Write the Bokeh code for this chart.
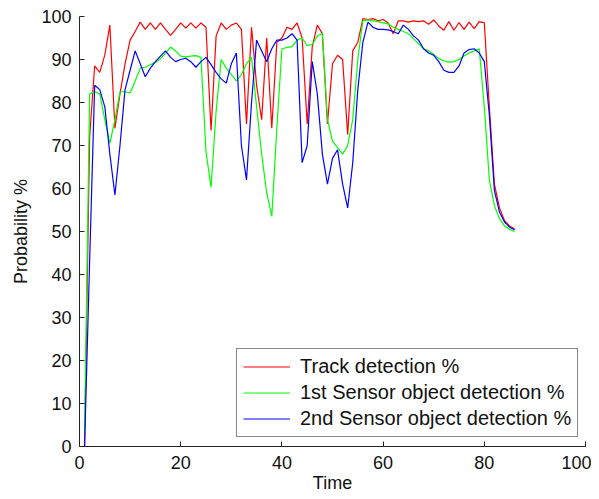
from bokeh.plotting import figure
from bokeh.models import Range1d, Legend, LegendItem, FixedTicker
from bokeh.embed import file_html
from bokeh.resources import INLINE

time = list(range(1, 87))

track = [0, 72, 88.5, 87, 91, 98, 74, 82, 89, 94.5,
         96.5, 98.7, 97, 98.5, 97, 98.5, 97, 95.6, 97, 98.5,
         97.3, 98.5, 97.3, 98.5, 97.5, 73.5, 95.5, 98.5, 97, 98,
         98.5, 97, 75, 97.5, 84, 76, 95, 74, 94, 95,
         97.5, 97, 98.5, 95, 75, 93, 98, 96, 75, 89,
         91, 90, 72.5, 92, 94, 99.5, 99.3, 99.5, 99, 99.3,
         98.5, 96, 99, 99, 98.7, 99, 98.8, 99, 98.2, 99.2,
         97.8, 96.8, 98.8, 96.8, 98.6, 97, 98.7, 97.2, 98.8, 98.5,
         79, 61, 55.5, 52.5, 51.3, 50.6]

sensor1 = [3, 82, 82.5, 82, 76, 70.5, 76, 82.5, 82.5, 82.2,
           85, 88, 88.2, 88.8, 89.3, 90.2, 91.5, 92.9, 92, 90.8,
           90.6, 90.8, 90.9, 90.5, 68.5, 60.3, 78, 90, 88, 86.5,
           85, 86.5, 89, 90.5, 79, 68, 59, 53.5, 74, 92.5,
           92.8, 93, 94.5, 95, 93.2, 93.5, 95.5, 96, 76, 71,
           69.5, 68, 70, 76, 90, 99, 99.2, 99, 98.8, 98.5,
           98.3, 97.5, 97, 96.5, 96, 94.8, 93.7, 92.5, 92, 91.2,
           90.2, 89.7, 89.4, 89.5, 90, 90.8, 91.5, 92, 92.5, 79,
           62, 56, 53, 51.3, 50.5, 50]

sensor2 = [0, 43, 84, 83, 79, 68, 58.5, 70, 83, 87.5,
           92, 89, 86, 88, 89.5, 90.8, 92, 90.5, 89.5, 90,
           90.3, 89.5, 88.2, 89.5, 90.5, 88.8, 87, 85.5, 84.5, 89,
           91.5, 70, 62, 80, 94.5, 92, 89.5, 92.5, 94.5, 94.5,
           95, 96, 94.5, 66, 70, 89.5, 82, 68, 61, 67,
           69, 61, 55.5, 66, 83, 94, 98.7, 97.5, 97, 97,
           96.9, 96.5, 96, 98, 97, 95.5, 94.5, 92.5, 91.5, 91,
           89.5, 87.5, 87, 87, 88.5, 91.5, 92.3, 92.5, 91.5, 89.5,
           77, 59.5, 54.5, 52.2, 51, 50.4]

series_names = ["Track detection %", "1st Sensor object detection %", "2nd Sensor object detection %"]
series_colors = ["#ff0000", "#00ff00", "#0000ff"]
x_ticks = [0, 20, 40, 60, 80, 100]
y_ticks = [0, 10, 20, 30, 40, 50, 60, 70, 80, 90, 100]

FONT = "Liberation Sans"

p = figure(width=591, height=498, output_backend="svg", toolbar_location=None,
           x_range=Range1d(0, 100), y_range=Range1d(0, 100),
           min_border_left=79, min_border_right=6, min_border_top=16, min_border_bottom=52)
p.outline_line_color = None
p.background_fill_color = "white"
p.border_fill_color = "white"
p.xgrid.visible = False
p.ygrid.visible = False

renderers = []
for vals, c in zip([track, sensor1, sensor2], series_colors):
    r = p.line(time, vals, line_color=c, line_width=1.2)
    renderers.append(r)

for ax in (p.xaxis[0], p.yaxis[0]):
    ax.major_tick_in = 5
    ax.major_tick_out = 0
    ax.minor_tick_in = 0
    ax.minor_tick_out = 0
    ax.axis_line_color = "#222222"
    ax.major_tick_line_color = "#222222"
    ax.major_label_text_font = FONT
    ax.major_label_text_font_size = "18px"
    ax.major_label_text_color = "#111111"
    ax.axis_label_text_font = FONT
    ax.axis_label_text_font_size = "18px"
    ax.axis_label_text_font_style = "normal"
    ax.axis_label_text_color = "#111111"

p.xaxis[0].ticker = FixedTicker(ticks=x_ticks)
p.yaxis[0].ticker = FixedTicker(ticks=y_ticks)
p.xaxis[0].axis_label = "Time"
p.yaxis[0].axis_label = "Probability %"
p.xaxis[0].major_label_standoff = 9
p.yaxis[0].major_label_standoff = 8
p.xaxis[0].axis_label_standoff = 1
p.yaxis[0].axis_label_standoff = 7

legend = Legend(items=[LegendItem(label=n, renderers=[r]) for n, r in zip(series_names, renderers)],
                location=(157, 9))
legend.border_line_color = "#111111"
legend.border_line_width = 1
legend.background_fill_color = "white"
legend.background_fill_alpha = 1
legend.label_text_font = FONT
legend.label_text_font_size = "20px"
legend.label_text_color = "#111111"
legend.glyph_width = 47
legend.glyph_height = 23
legend.label_height = 23
legend.label_standoff = 10
legend.padding = 6
legend.spacing = 3
legend.margin = 0
p.add_layout(legend, "center")

open("out.html", "w").write(file_html(p, INLINE))
